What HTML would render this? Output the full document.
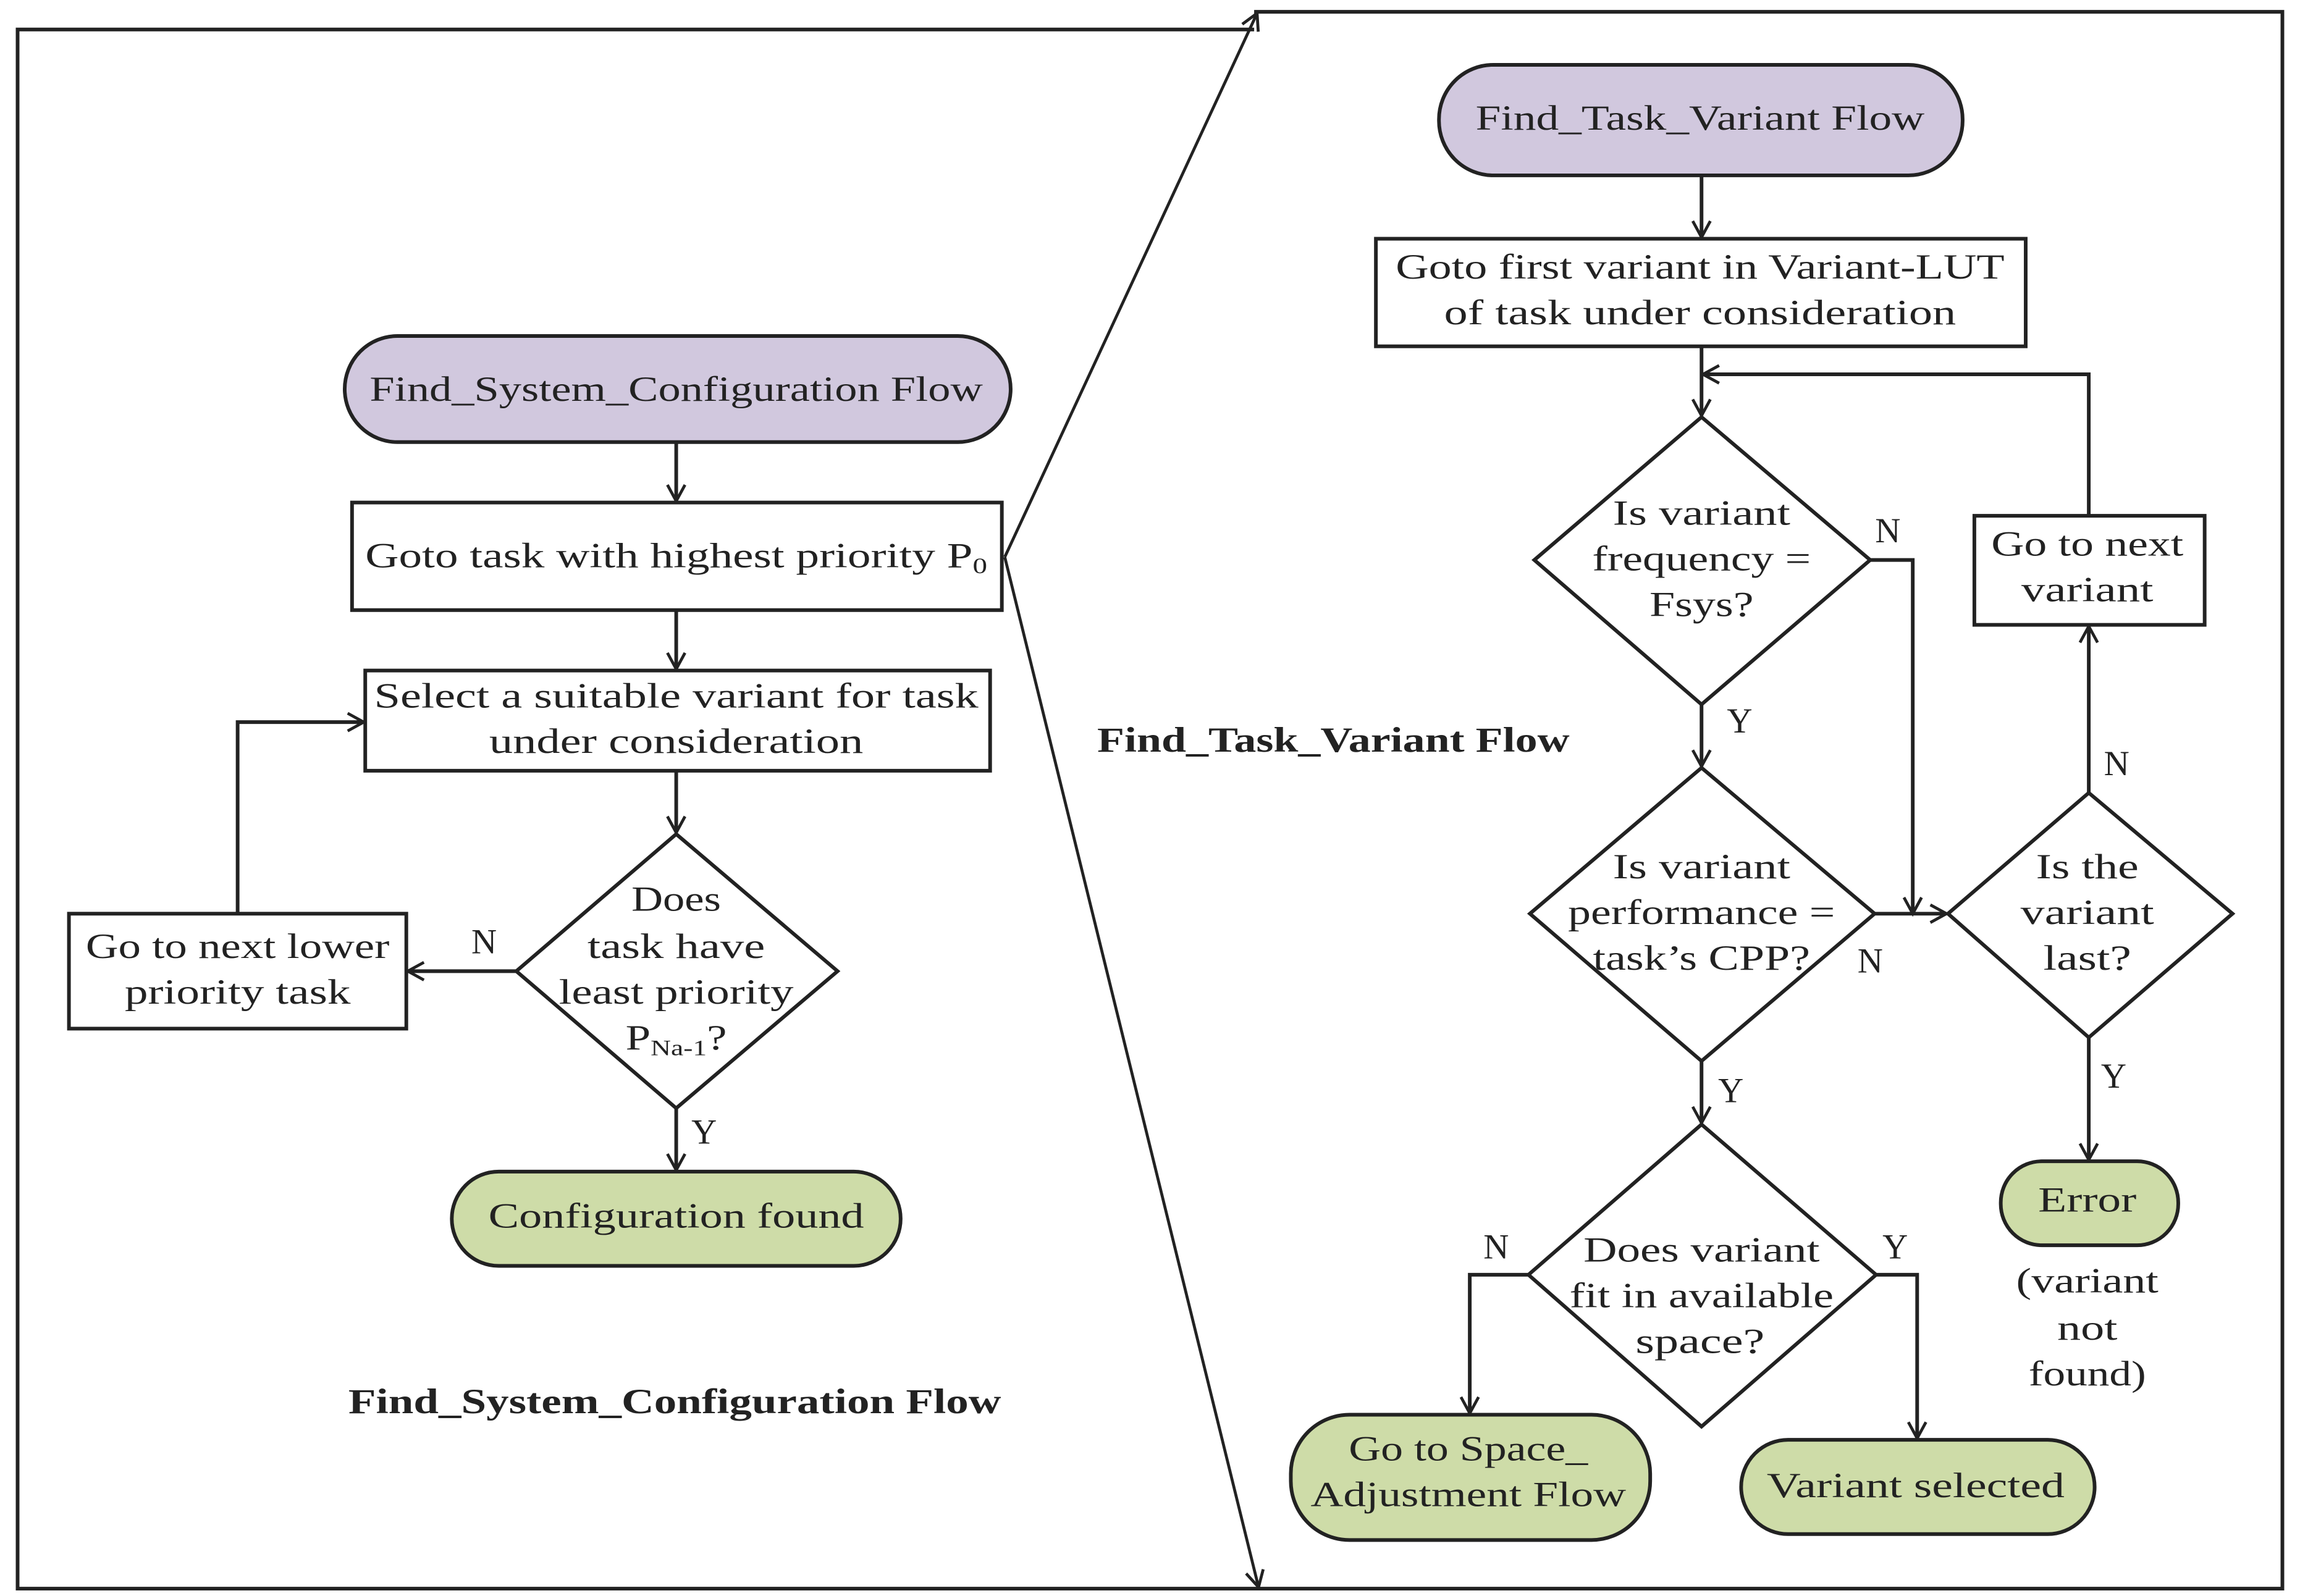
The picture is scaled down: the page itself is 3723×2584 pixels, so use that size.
<!DOCTYPE html>
<html><head><meta charset="utf-8"><style>html,body{margin:0;padding:0;background:#fff}svg{display:block}text{font-family:"Liberation Serif",serif;fill:#222;font-size:24px}</style></head><body>
<svg width="3723" height="2584" viewBox="0 0 1568 1083" preserveAspectRatio="none" xmlns="http://www.w3.org/2000/svg">
<defs><marker id="a" markerWidth="14" markerHeight="14" refX="12" refY="7" orient="auto" markerUnits="userSpaceOnUse"><path d="M1,1 L12,7 L1,13" fill="none" stroke="#222" stroke-width="2"/></marker></defs>
<g fill="none" stroke="#222" stroke-width="2.5">
<path d="M855,20 H12 V1078 H1556 V8 H855"/>
</g>
<g fill="none" stroke="#222" stroke-width="2">
<line x1="685" y1="378" x2="857" y2="9" marker-end="url(#a)"/>
<line x1="685" y1="378" x2="858" y2="1077" marker-end="url(#a)"/>
</g>
<g stroke="#222" stroke-width="2.5">
<rect x="235" y="228" width="454" height="72" rx="36" fill="#d1c8de"/>
<rect x="240" y="341" width="443" height="73" fill="#fff"/>
<rect x="249" y="455" width="426" height="68" fill="#fff"/>
<polygon points="461,566 571,659 461,752 352,659" fill="#fff"/>
<rect x="47" y="620" width="230" height="78" fill="#fff"/>
<rect x="308" y="795" width="306" height="64" rx="32" fill="#cedca8"/>
<rect x="981" y="44" width="357" height="75" rx="37" fill="#d1c8de"/>
<rect x="938" y="162" width="443" height="73" fill="#fff"/>
<polygon points="1160,283 1275,380 1160,478 1046,380" fill="#fff"/>
<polygon points="1160,521 1278,620 1160,720 1043,620" fill="#fff"/>
<polygon points="1160,763 1279,865 1160,968 1042,865" fill="#fff"/>
<polygon points="1424,538 1522,620 1424,704 1328,620" fill="#fff"/>
<rect x="1346" y="350" width="157" height="74" fill="#fff"/>
<rect x="880" y="960" width="245" height="85" rx="40" fill="#cedca8"/>
<rect x="1187" y="977" width="241" height="64" rx="32" fill="#cedca8"/>
<rect x="1364" y="788" width="121" height="57" rx="28" fill="#cedca8"/>
</g>
<g fill="none" stroke="#222" stroke-width="2.5" marker-end="url(#a)">
<line x1="461" y1="300" x2="461" y2="340"/>
<line x1="461" y1="414" x2="461" y2="454"/>
<line x1="461" y1="523" x2="461" y2="565"/>
<line x1="352" y1="659" x2="278" y2="659"/>
<path d="M162,620 V490 H248"/>
<line x1="461" y1="752" x2="461" y2="794"/>
<line x1="1160" y1="119" x2="1160" y2="161"/>
<line x1="1160" y1="235" x2="1160" y2="282"/>
<path d="M1424,350 V254 H1161"/>
<path d="M1275,380 H1304 V620"/>
<line x1="1278" y1="620" x2="1327" y2="620"/>
<line x1="1160" y1="478" x2="1160" y2="520"/>
<line x1="1160" y1="720" x2="1160" y2="762"/>
<path d="M1042,865 H1002 V959"/>
<path d="M1279,865 H1307 V976"/>
<line x1="1424" y1="538" x2="1424" y2="425"/>
<line x1="1424" y1="704" x2="1424" y2="787"/>
</g>
<g text-anchor="middle" lengthAdjust="spacingAndGlyphs">
<text x="461" y="272" textLength="418" lengthAdjust="spacingAndGlyphs">Find_System_Configuration Flow</text>
<text x="461" y="385" textLength="424" lengthAdjust="spacingAndGlyphs">Goto task with highest priority P<tspan font-size="15" dy="4">0</tspan></text>
<text x="461" y="480" textLength="412" lengthAdjust="spacingAndGlyphs">Select a suitable variant for task</text>
<text x="461" y="511" textLength="255" lengthAdjust="spacingAndGlyphs">under consideration</text>
<text x="461" y="618" textLength="61" lengthAdjust="spacingAndGlyphs">Does</text>
<text x="461" y="650" textLength="121" lengthAdjust="spacingAndGlyphs">task have</text>
<text x="461" y="681" textLength="160" lengthAdjust="spacingAndGlyphs">least priority</text>
<text x="461" y="712" textLength="69" lengthAdjust="spacingAndGlyphs">P<tspan font-size="15" dy="4">Na-1</tspan><tspan dy="-4">?</tspan></text>
<text x="162" y="650" textLength="207" lengthAdjust="spacingAndGlyphs">Go to next lower</text>
<text x="162" y="681" textLength="154" lengthAdjust="spacingAndGlyphs">priority task</text>
<text x="461" y="833" textLength="256" lengthAdjust="spacingAndGlyphs">Configuration found</text>
<text x="330" y="647" font-size="22">N</text>
<text x="480" y="776" font-size="22">Y</text>
<text x="460" y="959" font-weight="bold" font-size="23" textLength="445" lengthAdjust="spacingAndGlyphs">Find_System_Configuration Flow</text>
<text x="909" y="510" font-weight="bold" font-size="23" textLength="322" lengthAdjust="spacingAndGlyphs">Find_Task_Variant Flow</text>
<text x="1159" y="88" textLength="306" lengthAdjust="spacingAndGlyphs">Find_Task_Variant Flow</text>
<text x="1159" y="189" textLength="415" lengthAdjust="spacingAndGlyphs">Goto first variant in Variant-LUT</text>
<text x="1159" y="220" textLength="349" lengthAdjust="spacingAndGlyphs">of task under consideration</text>
<text x="1160" y="356" textLength="121" lengthAdjust="spacingAndGlyphs">Is variant</text>
<text x="1160" y="387" textLength="149" lengthAdjust="spacingAndGlyphs">frequency =</text>
<text x="1160" y="418" textLength="71" lengthAdjust="spacingAndGlyphs">Fsys?</text>
<text x="1160" y="596" textLength="121" lengthAdjust="spacingAndGlyphs">Is variant</text>
<text x="1160" y="627" textLength="182" lengthAdjust="spacingAndGlyphs">performance =</text>
<text x="1160" y="658" textLength="148" lengthAdjust="spacingAndGlyphs">task’s CPP?</text>
<text x="1160" y="856" textLength="161" lengthAdjust="spacingAndGlyphs">Does variant</text>
<text x="1160" y="887" textLength="180" lengthAdjust="spacingAndGlyphs">fit in available</text>
<text x="1159" y="918" textLength="88" lengthAdjust="spacingAndGlyphs">space?</text>
<text x="1423" y="596" textLength="70" lengthAdjust="spacingAndGlyphs">Is the</text>
<text x="1423" y="627" textLength="91" lengthAdjust="spacingAndGlyphs">variant</text>
<text x="1423" y="658" textLength="60" lengthAdjust="spacingAndGlyphs">last?</text>
<text x="1423" y="377" textLength="131" lengthAdjust="spacingAndGlyphs">Go to next</text>
<text x="1423" y="408" textLength="90" lengthAdjust="spacingAndGlyphs">variant</text>
<text x="1423" y="822" textLength="67" lengthAdjust="spacingAndGlyphs">Error</text>
<text x="1423" y="877" textLength="97" lengthAdjust="spacingAndGlyphs">(variant</text>
<text x="1423" y="909" textLength="41" lengthAdjust="spacingAndGlyphs">not</text>
<text x="1423" y="940" textLength="80" lengthAdjust="spacingAndGlyphs">found)</text>
<text x="1001" y="991" textLength="163" lengthAdjust="spacingAndGlyphs">Go to Space_</text>
<text x="1001" y="1022" textLength="215" lengthAdjust="spacingAndGlyphs">Adjustment Flow</text>
<text x="1306" y="1016" textLength="203" lengthAdjust="spacingAndGlyphs">Variant selected</text>
<text x="1287" y="368" font-size="22">N</text>
<text x="1186" y="497" font-size="22">Y</text>
<text x="1275" y="660" font-size="22">N</text>
<text x="1180" y="748" font-size="22">Y</text>
<text x="1020" y="854" font-size="22">N</text>
<text x="1292" y="854" font-size="22">Y</text>
<text x="1443" y="526" font-size="22">N</text>
<text x="1441" y="738" font-size="22">Y</text>
</g>
</svg>
</body></html>
